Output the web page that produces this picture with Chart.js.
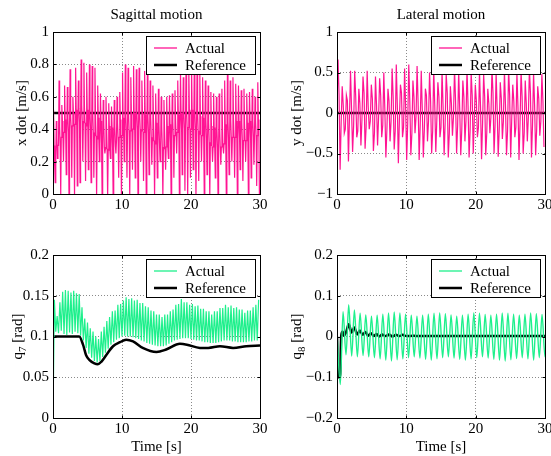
<!DOCTYPE html>
<html>
<head>
<meta charset="utf-8">
<script src="https://cdn.jsdelivr.net/npm/chart.js@4"></script>
<style>
html,body{margin:0;padding:0;background:#fff;overflow:hidden}
body{width:551px;height:456px;position:relative}
.panel{position:absolute;width:280px;height:228px}
canvas{display:block}
</style>
</head>
<body>
<div class="panel" style="left:0;top:0"><canvas id="xdot" width="280" height="228"></canvas></div>
<div class="panel" style="left:280px;top:0"><canvas id="ydot" width="280" height="228"></canvas></div>
<div class="panel" style="left:0;top:228px"><canvas id="q7" width="280" height="228"></canvas></div>
<div class="panel" style="left:280px;top:228px"><canvas id="q8" width="280" height="228"></canvas></div>
<script>
// ticks
const X_TICKS = [0, 10, 20, 30];
const XD_TICKS = [0, 0.2, 0.4, 0.6, 0.8, 1];
const YD_TICKS = [-1, -0.5, 0, 0.5, 1];
const Q7_TICKS = [0, 0.05, 0.1, 0.15, 0.2];
const Q8_TICKS = [-0.2, -0.1, 0, 0.1, 0.2];

// x dot: one entry per step (0.4 s)
const XD_PEAK = [0.52, 0.45, 0.70, 0.55, 0.67, 0.66, 0.77, 0.60, 0.78, 0.70,
  0.83, 0.81, 0.75, 0.80, 0.79, 0.78, 0.67, 0.62, 0.58, 0.60,
  0.56, 0.54, 0.58, 0.60, 0.63, 0.75, 0.80, 0.78, 0.72, 0.79,
  0.77, 0.78, 0.70, 0.76, 0.74, 0.70, 0.67, 0.62, 0.65, 0.60,
  0.58, 0.60, 0.61, 0.62, 0.64, 0.70, 0.75, 0.72, 0.78, 0.80,
  0.79, 0.80, 0.78, 0.75, 0.72, 0.70, 0.67, 0.63, 0.62, 0.60,
  0.62, 0.65, 0.70, 0.74, 0.70, 0.72, 0.68, 0.67, 0.64, 0.65,
  0.62, 0.63, 0.65, 0.60, 0.69];
const XD_DIP = [0.07, 0.30, 0.00, 0.20, 0.12, -0.02, 0.10, -0.02, 0.05, 0.07,
  0.20, 0.08, 0.15, 0.07, 0.10, -0.02, 0.20, -0.02, 0.25, -0.02,
  0.22, -0.02, 0.25, 0.10, -0.02, 0.20, 0.10, -0.02, 0.15, 0.10,
  -0.02, 0.20, 0.08, -0.02, 0.12, 0.18, -0.02, 0.10, 0.20, -0.02,
  0.15, 0.22, -0.02, 0.10, 0.25, -0.02, 0.12, 0.02, -0.02, 0.10,
  0.15, -0.02, 0.08, 0.20, 0.00, 0.12, -0.02, 0.20, 0.10, -0.02,
  0.18, 0.25, -0.02, 0.12, 0.20, 0.10, -0.02, 0.15, 0.08, 0.20,
  -0.02, 0.10, 0.18, 0.05, -0.02];
const XD_HI = [0.30, 0.35, 0.42, 0.45, 0.46, 0.47, 0.48, 0.50, 0.52, 0.53,
  0.55, 0.53, 0.52, 0.50, 0.50, 0.48, 0.47, 0.45, 0.44, 0.42,
  0.42, 0.41, 0.42, 0.44, 0.46, 0.47, 0.48, 0.49, 0.50, 0.50,
  0.50, 0.49, 0.50, 0.49, 0.48, 0.48, 0.46, 0.44, 0.43, 0.42,
  0.41, 0.42, 0.43, 0.45, 0.47, 0.49, 0.50, 0.51, 0.52, 0.52,
  0.52, 0.51, 0.50, 0.48, 0.47, 0.46, 0.44, 0.42, 0.41, 0.40,
  0.40, 0.41, 0.43, 0.45, 0.46, 0.46, 0.45, 0.45, 0.44, 0.44,
  0.44, 0.45, 0.45, 0.46, 0.46];
const XD_LO = [0.18, 0.22, 0.30, 0.35, 0.38, 0.38, 0.40, 0.42, 0.43, 0.44,
  0.45, 0.44, 0.42, 0.40, 0.38, 0.36, 0.34, 0.31, 0.29, 0.28,
  0.27, 0.28, 0.30, 0.33, 0.35, 0.36, 0.37, 0.38, 0.39, 0.40,
  0.40, 0.40, 0.39, 0.38, 0.37, 0.35, 0.33, 0.31, 0.30, 0.29,
  0.28, 0.29, 0.31, 0.34, 0.36, 0.38, 0.39, 0.40, 0.41, 0.41,
  0.40, 0.40, 0.39, 0.37, 0.36, 0.34, 0.32, 0.30, 0.29, 0.28,
  0.28, 0.29, 0.31, 0.33, 0.34, 0.35, 0.35, 0.34, 0.33, 0.33,
  0.33, 0.34, 0.35, 0.35, 0.36];
const XD_REF_T = [0, 30];
const XD_REF = [0.5, 0.5];

// y dot: one entry per sway spike pair (0.6 s)
const YD_UP = [0.66, 0.33, 0.22, 0.52, 0.52, 0.30, 0.45, 0.52, 0.35, 0.45,
  0.43, 0.50, 0.30, 0.55, 0.60, 0.35, 0.55, 0.60, 0.40, 0.58,
  0.52, 0.30, 0.50, 0.55, 0.38, 0.52, 0.48, 0.33, 0.55, 0.52,
  0.40, 0.55, 0.50, 0.35, 0.52, 0.48, 0.30, 0.55, 0.50, 0.38,
  0.52, 0.55, 0.35, 0.50, 0.52, 0.40, 0.55, 0.50, 0.33, 0.48];
const YD_DN = [-0.70, -0.25, -0.60, -0.48, -0.30, -0.40, -0.44, -0.20, -0.47, -0.40,
  -0.30, -0.55, -0.35, -0.45, -0.62, -0.30, -0.58, -0.52, -0.25, -0.58,
  -0.55, -0.35, -0.50, -0.48, -0.30, -0.52, -0.55, -0.28, -0.50, -0.52,
  -0.35, -0.55, -0.50, -0.30, -0.57, -0.52, -0.25, -0.50, -0.54, -0.32,
  -0.52, -0.55, -0.30, -0.58, -0.50, -0.35, -0.55, -0.52, -0.28, -0.42];
const YD_P2 = [0.22, 0.10, 0.15, 0.05, 0.20, 0.12, 0.25, 0.08, 0.18, 0.10,
  0.22, 0.05, 0.15, 0.20, 0.10, 0.25, 0.08, 0.15, 0.20, 0.12,
  0.05, 0.22, 0.15, 0.10, 0.20, 0.08, 0.25, 0.12, 0.15, 0.05,
  0.20, 0.10, 0.22, 0.15, 0.08, 0.20, 0.12, 0.25, 0.05, 0.18,
  0.10, 0.22, 0.15, 0.08, 0.20, 0.12, 0.25, 0.10, 0.18, 0.15];
const YD_N2 = [0.05, -0.12, -0.20, -0.05, -0.15, -0.22, -0.08, -0.18, -0.10, -0.25,
  -0.05, -0.15, -0.20, -0.10, -0.22, -0.08, -0.18, -0.12, -0.25, -0.05,
  -0.15, -0.20, -0.10, -0.22, -0.08, -0.18, -0.12, -0.25, -0.05, -0.15,
  -0.20, -0.10, -0.22, -0.08, -0.18, -0.12, -0.25, -0.05, -0.15, -0.20,
  -0.10, -0.22, -0.08, -0.18, -0.12, -0.25, -0.05, -0.15, -0.20, -0.10];
const YD_REF_T = [0, 30];
const YD_REF = [0, 0];

// q7: per step (0.4 s) low / high
const Q7_LO = [0.000, 0.106, 0.104, 0.107, 0.103, 0.102, 0.105, 0.103, 0.106, 0.104,
  0.101, 0.095, 0.086, 0.079, 0.074, 0.070, 0.068, 0.070, 0.075, 0.080,
  0.085, 0.090, 0.093, 0.096, 0.098, 0.100, 0.101, 0.100, 0.100, 0.099,
  0.098, 0.097, 0.095, 0.094, 0.092, 0.091, 0.090, 0.089, 0.088, 0.088,
  0.088, 0.089, 0.091, 0.093, 0.095, 0.096, 0.097, 0.098, 0.098, 0.098,
  0.097, 0.096, 0.095, 0.095, 0.094, 0.093, 0.093, 0.092, 0.092, 0.092,
  0.093, 0.094, 0.095, 0.095, 0.095, 0.094, 0.094, 0.093, 0.093, 0.093,
  0.093, 0.094, 0.094, 0.095, 0.095];
const Q7_HI = [0.145, 0.125, 0.142, 0.155, 0.157, 0.156, 0.154, 0.156, 0.153, 0.152,
  0.136, 0.122, 0.117, 0.110, 0.106, 0.100, 0.097, 0.106, 0.112, 0.119,
  0.124, 0.131, 0.132, 0.139, 0.140, 0.144, 0.148, 0.146, 0.147, 0.144,
  0.145, 0.141, 0.141, 0.137, 0.136, 0.132, 0.131, 0.127, 0.127, 0.124,
  0.127, 0.127, 0.131, 0.133, 0.139, 0.140, 0.146, 0.142, 0.142, 0.139,
  0.140, 0.137, 0.138, 0.134, 0.134, 0.131, 0.131, 0.127, 0.131, 0.131,
  0.135, 0.135, 0.139, 0.136, 0.138, 0.135, 0.136, 0.133, 0.133, 0.129,
  0.132, 0.132, 0.136, 0.139, 0.145];
const Q7_REF_T = [0, 3.8, 4.35, 4.8, 5.3, 6.0, 6.5, 7.0, 7.7, 8.7, 9.7, 10.6, 11.6,
  13, 15, 16.4, 18.4, 19.4, 21.3, 22.5, 24.2, 26.1, 28, 30];
const Q7_REF = [0.1, 0.1, 0.09, 0.077, 0.071, 0.067, 0.066, 0.069, 0.077, 0.088, 0.093, 0.096, 0.094,
  0.086, 0.081, 0.084, 0.091, 0.09, 0.086, 0.086, 0.088, 0.086, 0.088, 0.089];

// q8: per sway cycle trough / peak
const Q8_START = 0.01;
const Q8_TROUGH = [-0.118, -0.045, -0.048, -0.050, -0.047, -0.050, -0.052, -0.055, -0.058, -0.060,
  -0.057, -0.055, -0.052, -0.050, -0.053, -0.056, -0.058, -0.055, -0.052, -0.050,
  -0.053, -0.056, -0.058, -0.055, -0.052, -0.050, -0.053, -0.056, -0.058, -0.060,
  -0.057, -0.054, -0.052, -0.055, -0.058, -0.052, -0.050];
const Q8_PEAK = [0.061, 0.078, 0.065, 0.057, 0.053, 0.050, 0.052, 0.055, 0.058, 0.060,
  0.058, 0.055, 0.052, 0.050, 0.052, 0.055, 0.057, 0.058, 0.056, 0.053,
  0.050, 0.052, 0.055, 0.058, 0.057, 0.054, 0.052, 0.055, 0.058, 0.057,
  0.055, 0.052, 0.055, 0.058, 0.056, 0.054, 0.052];
const Q8_REF_T = [0, 0.15, 0.45, 0.6, 0.8, 1.0, 1.3, 1.7, 2.1, 2.5, 2.9, 3.3, 3.7, 4.1, 4.5, 4.9,
  5.3, 5.7, 6.1, 6.5, 7, 7.5, 8, 8.5, 9, 9.5, 10, 11, 12, 14, 16, 18, 20, 22, 24, 26, 28, 30];
const Q8_REF = [0, -0.1, -0.1, 0.0, 0.012, 0.002, 0.01, 0.03, 0.01, 0.022, 0.005, 0.015, 0.004, 0.011, 0.002, 0.008,
  0.001, 0.006, 0.0, 0.005, 0.001, 0.005, 0.0, 0.004, 0.001, 0.004, 0.001, 0.002, 0.001, 0.001, 0.001, 0.001,
  0.001, 0.001, 0.001, 0.001, 0.001, 0.001];

const PINK = '#ff1493';
const GREEN = '#1ef08c';
const FONT = 'Liberation Serif';

// lay the read values out inside each step
function steps(t0, dt, offs, cols) {
  const pts = [];
  for (let i = 0; i < cols[0].length; i++)
    cols.forEach((c, k) => pts.push({ x: t0 + i * dt + offs[k], y: c[i] }));
  return pts;
}
const pairs = (ts, vs) => ts.map((t, i) => ({ x: t, y: vs[i] }));
const fmt = v => String(+v.toFixed(3)).replace('-', '\u2212');

const frame = {
  id: 'frame',
  afterDatasetsDraw(chart, args, o) {
    const { ctx, chartArea: a } = chart;
    const w = 109, h = 38, l = a.right - 5 - w, t = a.top + 4;
    ctx.save();
    ctx.fillStyle = '#fff';
    ctx.fillRect(l, t, w, h);
    ctx.strokeStyle = '#000'; ctx.lineWidth = 1;
    ctx.strokeRect(Math.round(l) + 0.5, Math.round(t) + 0.5, w, h);
    const rows = [[o.color, 1.3, 'Actual'], ['#000', 2.5, 'Reference']];
    rows.forEach(([c, lw, txt], i) => {
      const y = t + 12 + i * 17;
      ctx.strokeStyle = c; ctx.lineWidth = lw;
      ctx.beginPath(); ctx.moveTo(l + 8, y); ctx.lineTo(l + 31, y); ctx.stroke();
      ctx.fillStyle = '#000'; ctx.font = '15px ' + FONT;
      ctx.textBaseline = 'middle'; ctx.textAlign = 'left';
      ctx.fillText(txt, l + 39, y + 1);
    });
    ctx.restore();
  },
  afterDraw(chart, args, o) {
    const { ctx, chartArea: a, scales } = chart;
    ctx.save();
    ctx.strokeStyle = '#000'; ctx.lineWidth = 1;
    const L = Math.round(a.left) + 0.5, R = Math.round(a.right) + 0.5;
    const T = Math.round(a.top) + 0.5, B = Math.round(a.bottom) + 0.5;
    ctx.strokeRect(L, T, R - L, B - T);
    ctx.beginPath();
    scales.x.ticks.forEach(tk => {
      const x = Math.round(scales.x.getPixelForValue(tk.value)) + 0.5;
      ctx.moveTo(x, B); ctx.lineTo(x, B - 3); ctx.moveTo(x, T); ctx.lineTo(x, T + 3);
    });
    scales.y.ticks.forEach(tk => {
      const y = Math.round(scales.y.getPixelForValue(tk.value)) + 0.5;
      ctx.moveTo(L, y); ctx.lineTo(L + 3, y); ctx.moveTo(R, y); ctx.lineTo(R - 3, y);
    });
    ctx.stroke();
    ctx.fillStyle = '#000';
    ctx.font = '15px ' + FONT;
    ctx.textAlign = 'center'; ctx.textBaseline = 'middle';
    const cx = (a.left + a.right) / 2;
    if (o.title) ctx.fillText(o.title, cx, 15);
    if (o.xlabel) ctx.fillText(o.xlabel, cx, 219);
    // rotated y label, optional subscript
    ctx.translate(o.ylx, (a.top + a.bottom) / 2);
    ctx.rotate(-Math.PI / 2);
    const [pre, sub, post] = o.ylabel;
    ctx.font = '15px ' + FONT;
    const wPre = ctx.measureText(pre).width, wPost = ctx.measureText(post).width;
    ctx.font = '11px ' + FONT;
    const wSub = sub ? ctx.measureText(sub).width : 0;
    let x = -(wPre + wSub + wPost) / 2;
    ctx.textAlign = 'left';
    ctx.font = '15px ' + FONT;
    ctx.fillText(pre, x, 0); x += wPre;
    if (sub) { ctx.font = '11px ' + FONT; ctx.fillText(sub, x, 5); x += wSub; }
    ctx.font = '15px ' + FONT;
    ctx.fillText(post, x, 0);
    ctx.restore();
  }
};

Chart.defaults.font.family = FONT;
Chart.defaults.font.size = 15;
Chart.defaults.color = '#000';

function makeChart(id, c) {
  new Chart(document.getElementById(id), {
    type: 'line',
    data: {
      datasets: [
        { data: c.actual, borderColor: c.color, borderWidth: c.lw, pointRadius: 0, tension: 0,
          cubicInterpolationMode: c.smooth ? 'monotone' : 'default' },
        { data: c.ref, borderColor: '#000', borderWidth: 2.5, pointRadius: 0,
          cubicInterpolationMode: 'monotone' }
      ]
    },
    options: {
      responsive: false, animation: false, parsing: false,
      layout: { padding: { left: 0, top: c.top, right: c.right, bottom: 0 } },
      plugins: {
        legend: { display: false }, tooltip: { enabled: false },
        frame: { color: c.color, title: c.title, xlabel: c.xlabel, ylabel: c.ylabel, ylx: c.ylx }
      },
      scales: {
        x: {
          type: 'linear', min: 0, max: 30,
          afterBuildTicks: s => { s.ticks = X_TICKS.map(v => ({ value: v })); },
          afterFit: s => { s.height = c.xh; },
          ticks: { padding: 2, maxRotation: 0, callback: fmt },
          grid: { color: '#8a8a8a', lineWidth: 1, drawTicks: false },
          border: { display: false, dash: [1, 2] }
        },
        y: {
          type: 'linear', min: c.yTicks[0], max: c.yTicks[c.yTicks.length - 1],
          afterBuildTicks: s => { s.ticks = c.yTicks.map(v => ({ value: v })); },
          afterFit: s => { s.width = c.yw; },
          ticks: { padding: 4, callback: fmt },
          grid: { color: '#8a8a8a', lineWidth: 1, drawTicks: false },
          border: { display: false, dash: [1, 2] }
        }
      }
    },
    plugins: [frame]
  });
}

makeChart('xdot', {
  actual: steps(0, 0.4, [0, 0.08, 0.16, 0.24, 0.32], [XD_LO, XD_PEAK, XD_HI, XD_LO, XD_DIP]),
  ref: pairs(XD_REF_T, XD_REF), color: PINK, lw: 1.2, yTicks: XD_TICKS,
  top: 32, right: 20, xh: 34, yw: 53, ylx: 22,
  title: 'Sagittal motion', ylabel: ['x dot [m/s]', '', '']
});
makeChart('ydot', {
  actual: steps(0, 0.6, [0, 0.15, 0.3, 0.45], [YD_N2, YD_UP, YD_P2, YD_DN]),
  ref: pairs(YD_REF_T, YD_REF), color: PINK, lw: 1.2, yTicks: YD_TICKS,
  top: 32, right: 15, xh: 34, yw: 57, ylx: 17,
  title: 'Lateral motion', ylabel: ['y dot [m/s]', '', '']
});
makeChart('q7', {
  actual: steps(0, 0.4, [0, 0.2], [Q7_LO, Q7_HI]),
  ref: pairs(Q7_REF_T, Q7_REF), color: GREEN, lw: 1.2, yTicks: Q7_TICKS,
  top: 27, right: 20, xh: 38, yw: 53, ylx: 18,
  xlabel: 'Time [s]', ylabel: ['q', '7', ' [rad]']
});
makeChart('q8', {
  actual: [{ x: 0, y: Q8_START }].concat(steps(0.48, 0.82, [0, 0.39], [Q8_TROUGH, Q8_PEAK])),
  ref: pairs(Q8_REF_T, Q8_REF), color: GREEN, lw: 1.4, smooth: true, yTicks: Q8_TICKS,
  top: 27, right: 15, xh: 38, yw: 57, ylx: 17.5,
  xlabel: 'Time [s]', ylabel: ['q', '8', ' [rad]']
});
</script>
</body>
</html>
